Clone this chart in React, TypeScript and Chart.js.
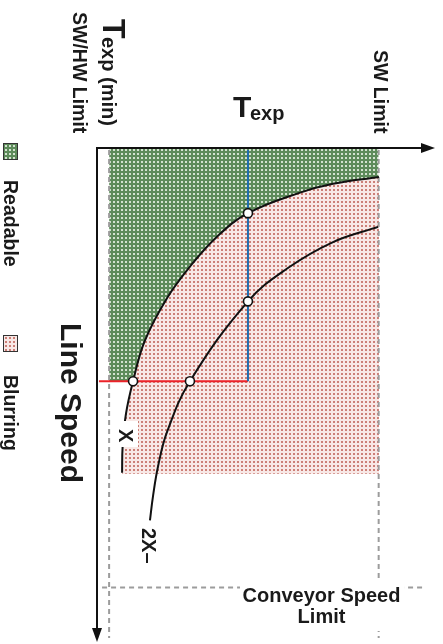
import { useEffect, useRef } from 'react';
import { Chart, registerables } from 'chart.js';

Chart.register(...registerables);

// ---- Data (x: exposure time Texp, y: line speed; arbitrary units) ----
const curveXTexp = [8.9, 9.1, 10.3, 12.8, 17.0, 24.9, 33.0, 42.6, 53.6, 72.1, 83.8, 100.1];
const curveXSpeed = [66.3, 60.9, 54.2, 47.6, 39.3, 30.6, 24.2, 18.1, 13.3, 9.1, 7.3, 5.9];
const curve2XTexp = [18.8, 19.9, 21.7, 24.9, 33.0, 53.6, 67.5, 83.8, 99.8];
const curve2XSpeed = [76.0, 71.0, 64.9, 57.9, 47.6, 31.3, 24.6, 19.2, 16.1];
const markerTexp = [53.6, 53.6, 12.8, 33.0];
const markerSpeed = [13.3, 31.3, 47.6, 47.6];
const TEXP_MIN = 4.3;
const SW_LIMIT = 100;
const TEXP_SEL = 53.6;
const SPEED_SEL = 47.6;
const BLUR_MAX_SPEED = 66.5;
const CONVEYOR_LIMIT = 89.7;
const X_MAX = 120;
const Y_MAX = 100;

const pts = (xs: number[], ys: number[]) => xs.map((x, i) => ({ x, y: ys[i] }));

const FONT = "'Liberation Sans', Arial, sans-serif";
const INK = '#1a1a1a';

function makeTile(bg: string, dot: string, size: number, dotSize: number) {
  const c = document.createElement('canvas');
  c.width = size;
  c.height = size;
  const g = c.getContext('2d')!;
  g.fillStyle = bg;
  g.fillRect(0, 0, size, size);
  g.fillStyle = dot;
  g.fillRect(1, 1, dotSize, dotSize);
  return c;
}

function vText(ctx: CanvasRenderingContext2D, text: string, baseX: number, startY: number, font: string) {
  ctx.save();
  ctx.translate(baseX, startY);
  ctx.rotate(Math.PI / 2);
  ctx.font = font;
  ctx.textAlign = 'left';
  ctx.textBaseline = 'alphabetic';
  ctx.fillStyle = INK;
  ctx.fillText(text, 0, 0);
  ctx.restore();
}

export default function App() {
  const ref = useRef<HTMLCanvasElement>(null);

  useEffect(() => {
    const canvas = ref.current!;
    const ctx0 = canvas.getContext('2d')!;
    const green = ctx0.createPattern(makeTile('#5d8b5a', '#d3e2d0', 4, 2), 'repeat')!;
    const pink = ctx0.createPattern(makeTile('#f8e8e6', '#cc7f77', 4, 2), 'repeat')!;

    const overlay = {
      id: 'overlay',
      afterDatasetsDraw(chart: any) {
        const ctx: CanvasRenderingContext2D = chart.ctx;
        const a = chart.chartArea;
        ctx.save();
        // white label boxes
        ctx.fillStyle = '#fff';
        ctx.fillRect(117, 421, 21, 26);
        ctx.fillRect(240, 579, 164, 52);
        // axes
        ctx.strokeStyle = '#111';
        ctx.lineWidth = 2;
        ctx.beginPath();
        ctx.moveTo(a.left - 1, a.top);
        ctx.lineTo(a.right - 12, a.top);
        ctx.moveTo(a.left, a.top - 1);
        ctx.lineTo(a.left, a.bottom - 8);
        ctx.stroke();
        ctx.fillStyle = '#111';
        ctx.beginPath();
        ctx.moveTo(a.right, a.top);
        ctx.lineTo(a.right - 14, a.top - 5);
        ctx.lineTo(a.right - 14, a.top + 5);
        ctx.closePath();
        ctx.fill();
        ctx.beginPath();
        ctx.moveTo(a.left, a.bottom + 4);
        ctx.lineTo(a.left - 5, a.bottom - 10);
        ctx.lineTo(a.left + 5, a.bottom - 10);
        ctx.closePath();
        ctx.fill();
        // legend swatches
        ctx.lineWidth = 1;
        ctx.strokeStyle = '#333';
        ctx.fillStyle = green;
        ctx.fillRect(4, 144, 13, 15);
        ctx.strokeRect(3.5, 143.5, 14, 16);
        ctx.fillStyle = pink;
        ctx.fillRect(4, 336, 13, 15);
        ctx.strokeRect(3.5, 335.5, 14, 16);
        ctx.restore();

        // rotated labels
        vText(ctx, 'SW/HW Limit', 72.5, 12, `bold 19.5px ${FONT}`);
        vText(ctx, 'T', 103, 19, `bold 32px ${FONT}`);
        vText(ctx, 'exp (min)', 102, 37, `bold 20px ${FONT}`);
        vText(ctx, 'SW Limit', 373.5, 50, `bold 19.5px ${FONT}`);
        vText(ctx, 'Readable', 3.5, 180, `bold 19.5px ${FONT}`);
        vText(ctx, 'Blurring', 3.5, 375, `bold 19.5px ${FONT}`);
        vText(ctx, 'Line Speed', 61, 323, `bold 30px ${FONT}`);
        vText(ctx, 'X', 118.5, 429, `bold 20px ${FONT}`);
        vText(ctx, '2X\u2013', 142, 528, `bold 20px ${FONT}`);

        // horizontal labels
        ctx.save();
        ctx.fillStyle = INK;
        ctx.textBaseline = 'alphabetic';
        ctx.textAlign = 'left';
        ctx.font = `bold 30px ${FONT}`;
        ctx.fillText('T', 233, 117);
        ctx.font = `bold 20px ${FONT}`;
        ctx.fillText('exp', 250, 120);
        ctx.textAlign = 'center';
        ctx.fillText('Conveyor Speed', 321.5, 602);
        ctx.fillText('Limit', 321.5, 623);
        ctx.restore();
      },
    };

    const line = (data: any[], extra: any) => ({
      data,
      showLine: true,
      pointRadius: 0,
      fill: false,
      ...extra,
    });
    const dashed = { borderColor: '#9c9c9c', borderWidth: 2, borderDash: [5, 4], order: 8 };

    const chart = new Chart(canvas, {
      type: 'scatter',
      data: {
        datasets: [
          line([{ x: TEXP_MIN, y: SPEED_SEL }, { x: SW_LIMIT, y: SPEED_SEL }], {
            label: 'Readable', borderWidth: 0, fill: 'end', backgroundColor: green, order: 10,
          }),
          line(pts(curveXTexp, curveXSpeed), {
            label: 'Blurring', borderWidth: 0, tension: 0.4, fill: { value: BLUR_MAX_SPEED }, backgroundColor: pink, order: 9,
          }),
          line([{ x: TEXP_MIN, y: 0.4 }, { x: TEXP_MIN, y: Y_MAX }], { label: 'SW/HW Limit', ...dashed }),
          line([{ x: SW_LIMIT, y: 0.4 }, { x: SW_LIMIT, y: Y_MAX }], { label: 'SW Limit', ...dashed }),
          line([{ x: 1.8, y: CONVEYOR_LIMIT }, { x: 115.8, y: CONVEYOR_LIMIT }], { label: 'Conveyor Speed Limit', ...dashed }),
          line([{ x: TEXP_SEL, y: 0.4 }, { x: TEXP_SEL, y: SPEED_SEL }], {
            label: 'Texp', borderColor: '#1f6db0', borderWidth: 2, order: 5,
          }),
          line([{ x: 0.7, y: SPEED_SEL }, { x: TEXP_SEL, y: SPEED_SEL }], {
            label: 'Speed', borderColor: '#ec2229', borderWidth: 2, order: 5,
          }),
          line(pts(curveXTexp, curveXSpeed), { label: 'X', borderColor: '#111', borderWidth: 2, tension: 0.4, order: 4 }),
          line(pts(curve2XTexp, curve2XSpeed), { label: '2X', borderColor: '#111', borderWidth: 2, tension: 0.4, order: 4 }),
          {
            label: 'points',
            data: pts(markerTexp, markerSpeed),
            showLine: false,
            pointRadius: 4.5,
            pointBackgroundColor: '#fff',
            pointBorderColor: '#111',
            pointBorderWidth: 1.6,
            order: 1,
          },
        ] as any,
      },
      options: {
        animation: false,
        responsive: false,
        devicePixelRatio: 1,
        events: [],
        layout: { padding: { left: 97, top: 148, right: 8, bottom: 0 } },
        scales: {
          x: { type: 'linear', min: 0, max: X_MAX, display: false },
          y: { type: 'linear', min: 0, max: Y_MAX, reverse: true, display: false },
        },
        plugins: { legend: { display: false }, tooltip: { enabled: false } },
      } as any,
      plugins: [overlay],
    });
    return () => chart.destroy();
  }, []);

  return <canvas ref={ref} width={443} height={644} style={{ position: 'absolute', left: 0, top: 0 }} />;
}
